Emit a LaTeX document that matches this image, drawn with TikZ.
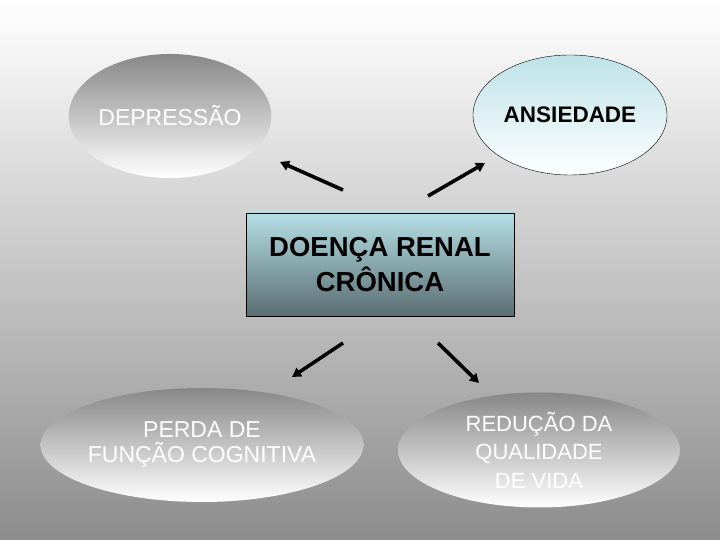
\documentclass[tikz,border=0pt]{standalone}
\usepackage{fontspec}
\setmainfont{Liberation Sans}
\usetikzlibrary{arrows.meta, shapes.geometric}
\definecolor{cyanlt}{HTML}{B6DFE5}
\definecolor{slatedk}{HTML}{5A6D72}

\begin{document}
\begin{tikzpicture}[x=1pt, y=1pt,
            bubble/.style={ellipse, inner sep=0pt, align=center,
                    text=white, top color=black!47, bottom color=white,
                    font=\fontsize{23}{25}\selectfont},
            arr/.style={-{Triangle[length=9pt,width=10pt]}, line width=3.6pt}]
        % background
        \shade[top color=white, bottom color=black!45] (0,0) rectangle (720,540);
        \useasboundingbox (0,0) rectangle (720,540);
        % central box
        \node[draw=black, top color=cyanlt, bottom color=slatedk,
              minimum width=268pt, minimum height=103pt, align=center,
              font=\bfseries\fontsize{27.5}{35}\selectfont] (drc) at (380,275.5)
              {DOEN\c{C}A RENAL\\CR\^ONICA};
        % consequences
        \node[bubble, minimum width=190pt, minimum height=124pt] (dep) at (170,424) {DEPRESS\~AO};
        \node[bubble, draw=black, thin, text=black, top color=cyanlt!90, bottom color=white,
              minimum width=194pt, minimum height=120pt,
              font=\bfseries\fontsize{22.5}{25}\selectfont] (ans) at (570,425) {ANSIEDADE};
        \node[bubble, minimum width=285pt, minimum height=114pt] (per) at (202,95)
              {PERDA DE\\FUN\c{C}\~AO COGNITIVA};
        \node[bubble, minimum width=282pt, minimum height=115pt,
              font=\fontsize{22}{28.5}\selectfont] (red) at (539,90)
              {REDU\c{C}\~AO DA\\QUALIDADE\\DE VIDA};
        % arrow ends
        \coordinate (t1) at (343,350); \coordinate (h1) at (280,378);
        \coordinate (t2) at (428,344); \coordinate (h2) at (485,377);
        \coordinate (t3) at (343,197); \coordinate (h3) at (292,163);
        \coordinate (t4) at (438,197); \coordinate (h4) at (479,157);
        \draw[arr] (t1) -- (h1);
        \draw[arr] (t2) -- (h2);
        \draw[arr] (t3) -- (h3);
        \draw[arr] (t4) -- (h4);
    \end{tikzpicture}
\end{document}
